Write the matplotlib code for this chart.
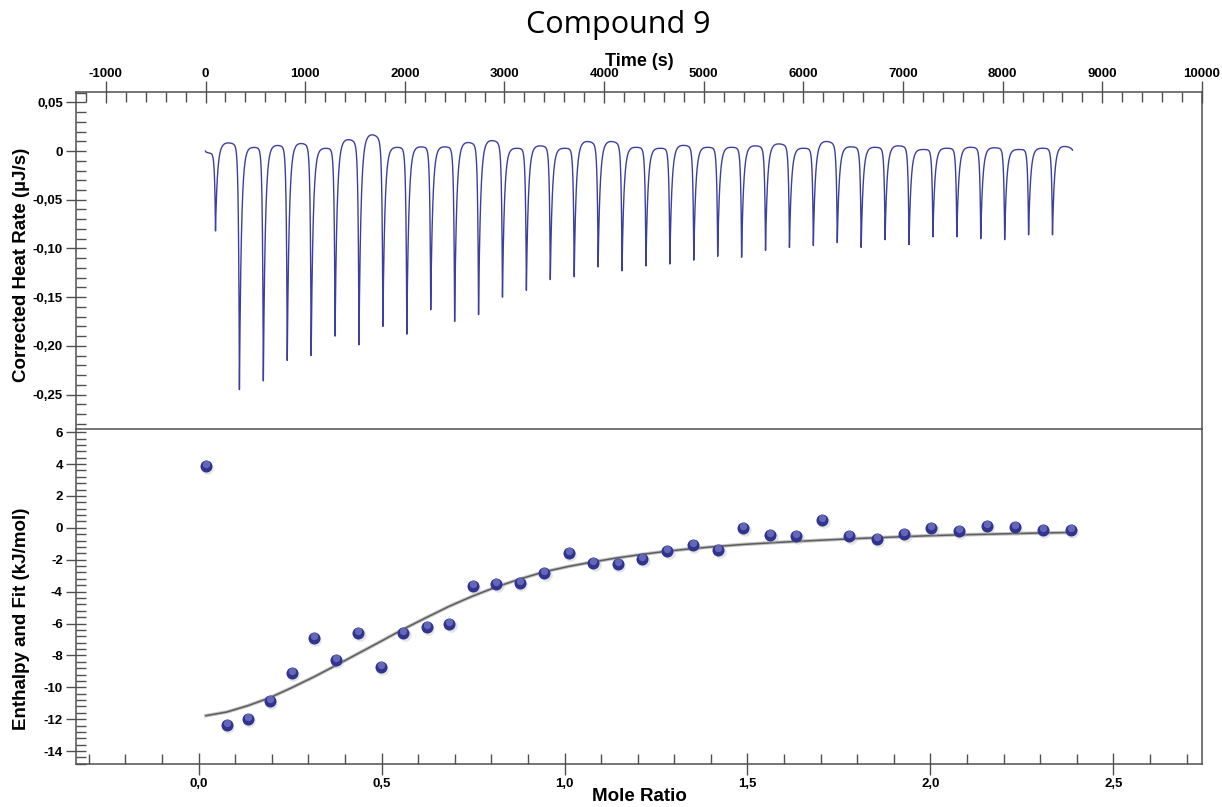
import numpy as np
import matplotlib
matplotlib.use("Agg")
import matplotlib.pyplot as plt
from matplotlib.ticker import MultipleLocator, FuncFormatter
from matplotlib.transforms import offset_copy

plt.rcParams['font.family'] = ['Liberation Sans', 'DejaVu Sans']
plt.rcParams['axes.unicode_minus'] = False

# raw thermogram: injection times (s), peak minima (uJ/s) and baseline hump heights
inj_times = [100, 340, 580, 820, 1060, 1300, 1540, 1780, 2020, 2260, 2500, 2740,
             2980, 3220, 3460, 3700, 3940, 4180, 4420, 4660, 4900, 5140, 5380,
             5620, 5860, 6100, 6340, 6580, 6820, 7060, 7300, 7540, 7780, 8020,
             8260, 8500]
peak_depth = [-0.082, -0.245, -0.236, -0.215, -0.210, -0.190, -0.199, -0.180,
              -0.188, -0.163, -0.175, -0.168, -0.150, -0.143, -0.132, -0.129,
              -0.119, -0.123, -0.118, -0.116, -0.112, -0.108, -0.109, -0.102,
              -0.099, -0.097, -0.094, -0.099, -0.091, -0.096, -0.088, -0.088,
              -0.090, -0.091, -0.086, -0.086]
base_hump = [-0.002, 0.0085, 0.004, 0.006, 0.008, 0.003, 0.012, 0.017,
             0.004, 0.0045, 0.0045, 0.009, 0.011, 0.003, 0.0055, 0.003, 0.010,
             0.010, 0.004, 0.003, 0.006, 0.004, 0.004, 0.0055, 0.0075, 0.003,
             0.010, 0.0045, 0.004, 0.0055, 0.0017, 0.003, 0.004, 0.0035, 0.0017,
             0.003, 0.005]
t_start, t_end = 0, 8700

# integrated heats and fit
mole_ratio = [0.020, 0.077, 0.135, 0.195, 0.254, 0.315, 0.375, 0.436, 0.498,
              0.559, 0.623, 0.685, 0.749, 0.813, 0.878, 0.944, 1.011, 1.079,
              1.145, 1.213, 1.281, 1.350, 1.420, 1.489, 1.562, 1.633, 1.705,
              1.778, 1.853, 1.928, 2.002, 2.077, 2.154, 2.230, 2.307, 2.384]
enthalpy = [3.85, -12.37, -12.01, -10.86, -9.08, -6.92, -8.31, -6.57, -8.72,
            -6.57, -6.21, -6.05, -3.64, -3.49, -3.43, -2.84, -1.55, -2.22,
            -2.28, -1.96, -1.44, -1.09, -1.40, 0.02, -0.44, -0.54, 0.50,
            -0.54, -0.67, -0.40, -0.02, -0.19, 0.13, 0.06, -0.13, -0.13]
fit = [-11.78, -11.55, -11.15, -10.65, -10.03, -9.35, -8.63, -7.88, -7.12,
       -6.36, -5.62, -4.92, -4.28, -3.71, -3.21, -2.76, -2.42, -2.13, -1.88,
       -1.66, -1.46, -1.30, -1.16, -1.04, -0.94, -0.85, -0.77, -0.69, -0.62,
       -0.55, -0.49, -0.44, -0.40, -0.36, -0.32, -0.29]

trace_color = '#3c3f9e'
axis_color = '#505050'

# build the heat-rate trace from the injection peaks
t = np.arange(t_start, t_end + 1, 1.0)
edges = [t_start] + inj_times + [t_end + 1]
rate = np.zeros_like(t)
for k, h in enumerate(base_hump):
    a, b = edges[k], edges[k + 1]
    m = (t >= a) & (t < b)
    u = (t[m] - a) / (b - a)
    rate[m] += h * np.sin(np.pi * u) ** 0.4
for ti, d in zip(inj_times, peak_depth):
    left = t < ti
    rate[left] += d * np.exp((t[left] - ti) / 9.0)
    rate[~left] += d * np.exp(-(t[~left] - ti) / 20.0)

fig = plt.figure(figsize=(12.22, 8.07), dpi=100)
ax1 = fig.add_axes([0.0622, 0.4684, 0.9214, 0.4172])
ax2 = fig.add_axes([0.0622, 0.0529, 0.9214, 0.4155])

ax1.plot(t, rate, color=trace_color, lw=1.0)
ax1.set_xlim(-1300, 10000)
ax1.set_ylim(-0.2854, 0.0603)

ax2.plot(mole_ratio, fit, color='#c4c4c4', lw=2.6, zorder=2)
ax2.plot(mole_ratio, fit, color='#5c5c5c', lw=1.1, zorder=3)
shadow = offset_copy(ax2.transData, fig=fig, x=1.5, y=-2.0, units='dots')
shine = offset_copy(ax2.transData, fig=fig, x=0, y=2.0, units='dots')
ax2.scatter(mole_ratio, enthalpy, s=80, color='#a8a8a8', alpha=0.3,
            lw=0, transform=shadow, zorder=4)
ax2.scatter(mole_ratio, enthalpy, s=75, color='#30338f', lw=0, zorder=5)
ax2.scatter(mole_ratio, enthalpy, s=28, color='#7a7fc8', alpha=0.7,
            lw=0, transform=shine, zorder=6)
ax2.set_xlim(-0.335, 2.742)
ax2.set_ylim(-14.83, 6.2)


def comma(fmt):
    def f(v, pos):
        if abs(v) < 1e-9 and fmt != '{:.1f}':
            return '0'
        return fmt.format(v).replace('.', ',')
    return FuncFormatter(f)


for ax in (ax1, ax2):
    for s in ax.spines.values():
        s.set_color(axis_color)
        s.set_linewidth(1.1)

ax1.spines['bottom'].set_visible(False)
ax1.xaxis.set_major_locator(MultipleLocator(1000))
ax1.xaxis.set_minor_locator(MultipleLocator(200))
ax1.yaxis.set_major_locator(MultipleLocator(0.05))
ax1.yaxis.set_minor_locator(MultipleLocator(0.01))
ax1.yaxis.set_major_formatter(comma('{:.2f}'))
ax1.tick_params(axis='x', which='both', bottom=False, top=True,
                labelbottom=False, labeltop=True)
ax1.tick_params(axis='x', which='major', direction='inout', length=16,
                pad=1)
ax1.tick_params(axis='x', which='minor', direction='in', length=7)

ax2.xaxis.set_major_locator(MultipleLocator(0.5))
ax2.xaxis.set_minor_locator(MultipleLocator(0.1))
ax2.yaxis.set_major_locator(MultipleLocator(2))
ax2.yaxis.set_minor_locator(MultipleLocator(0.4))
ax2.xaxis.set_major_formatter(comma('{:.1f}'))
ax2.tick_params(axis='x', which='both', top=False)
ax2.tick_params(axis='x', which='major', direction='inout', length=16, pad=2)
ax2.tick_params(axis='x', which='minor', direction='in', length=7)

for ax in (ax1, ax2):
    ax.tick_params(axis='y', which='both', right=False)
    ax.tick_params(axis='y', which='major', direction='inout', length=15, pad=2)
    ax.tick_params(axis='y', which='minor', direction='in', length=7.5)
    ax.tick_params(which='both', color=axis_color, width=1.0)
    ax.tick_params(which='major', labelsize=9.5)
    for lab in ax.get_xticklabels() + ax.get_yticklabels():
        lab.set_fontweight('bold')

fig.text(0.5057, 0.969, 'Compound 9', family='Open Sans', fontsize=22,
         ha='center', va='center')
fig.text(0.523, 0.924, 'Time (s)', fontsize=13, fontweight='bold',
         ha='center', va='center')
fig.text(0.523, 0.013, 'Mole Ratio', fontsize=13.5, fontweight='bold',
         ha='center', va='center')
fig.text(0.018, 1 - 265 / 807, 'Corrected Heat Rate (µJ/s)', fontsize=13.5,
         fontweight='bold', rotation=90, ha='center', va='center')
fig.text(0.018, 1 - 619 / 807, 'Enthalpy and Fit (kJ/mol)', fontsize=13.5,
         fontweight='bold', rotation=90, ha='center', va='center')

fig.savefig('out.png', dpi=100)
